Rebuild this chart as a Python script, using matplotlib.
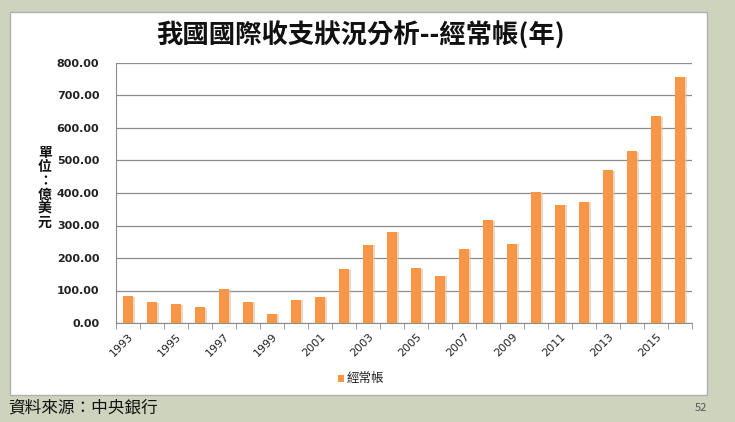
import matplotlib
matplotlib.use("Agg")
import matplotlib.pyplot as plt
import matplotlib.patheffects as pe
from matplotlib.patches import Rectangle
import numpy as np

plt.rcParams['font.family'] = ['Noto Sans CJK TC', 'DejaVu Sans']

# Current account by year (億美元)
years = list(range(1993, 2017))
values = [82, 64, 59, 49, 105, 66, 29, 72, 79, 166, 241, 281, 169, 146,
          227, 316, 244, 403, 364, 373, 470, 528, 636, 758]
tick_years = [str(y) for y in range(1993, 2016, 2)]
yticks = [0, 100, 200, 300, 400, 500, 600, 700, 800]

bg = '#CDD3BC'
bar_color = '#F79646'

fig = plt.figure(figsize=(7.35, 4.22), dpi=100)
fig.patch.set_facecolor(bg)

# white chart frame
fig.patches.append(Rectangle((10 / 735, 1 - 395 / 422), 697 / 735, 383 / 422,
                             transform=fig.transFigure, facecolor='white',
                             edgecolor='#b0b0b0', lw=1, zorder=-5))

ax = fig.add_axes([116 / 735, 1 - 323 / 422, 576 / 735, 260 / 422])
ax.set_zorder(2)
ax.set_facecolor('white')

x = np.arange(len(years))
bars = ax.bar(x, values, width=0.45, color=bar_color, zorder=3)
for b in bars:
    b.set_path_effects([pe.SimplePatchShadow(offset=(1.5, -0.5), shadow_rgbFace='#e0c0a0', alpha=0.6),
                        pe.Normal()])

ax.set_xlim(-0.5, len(years) - 0.5)
ax.set_ylim(0, 800)
ax.set_yticks(yticks)
ax.set_yticklabels([f"{v:.2f}" for v in yticks], fontsize=8, fontweight='bold',
                   family='DejaVu Sans', color='#222222')
ax.tick_params(axis='y', length=0, pad=12)
ax.yaxis.grid(True, color='#8c8c8c', lw=0.9, zorder=0)
ax.set_axisbelow(True)

ax.set_xticks(x[::2][:len(tick_years)])
ax.set_xticklabels(tick_years, rotation=45, ha='right', rotation_mode='anchor',
                   fontsize=8, family='DejaVu Sans', color='#222222')
ax.tick_params(axis='x', length=0, pad=6)
ax.set_xticks(np.arange(-0.5, len(years), 1), minor=True)
ax.tick_params(axis='x', which='minor', length=4, color='#8c8c8c', direction='out')

for s in ['top', 'right']:
    ax.spines[s].set_visible(False)
ax.spines['left'].set_color('#8c8c8c')
ax.spines['bottom'].set_color('#8c8c8c')

fig.text(361 / 735, 1 - 36 / 422, '我國國際收支狀況分析--經常帳(年)', ha='center', va='center',
         fontsize=19, fontweight='bold', color='#111111')

fig.text(45 / 735, 1 - 188 / 422, '單\n位\n：\n億\n美\n元', ha='center', va='center',
         fontsize=10, fontweight='bold', linespacing=1.0, color='#111111')

# legend
fig.patches.append(Rectangle((338 / 735, 1 - 382 / 422), 6 / 735, 7 / 422,
                             transform=fig.transFigure, facecolor=bar_color, edgecolor='none'))
fig.text(347 / 735, 1 - 378 / 422, '經常帳', ha='left', va='center', fontsize=9, color='#222222')

fig.text(8 / 735, 1 - 408 / 422, '資料來源：中央銀行', ha='left', va='center', fontsize=12, color='#111111')
fig.text(707 / 735, 1 - 408 / 422, '52', ha='right', va='center', fontsize=8, color='#555555')

fig.savefig('out.png', dpi=100, facecolor=bg)
